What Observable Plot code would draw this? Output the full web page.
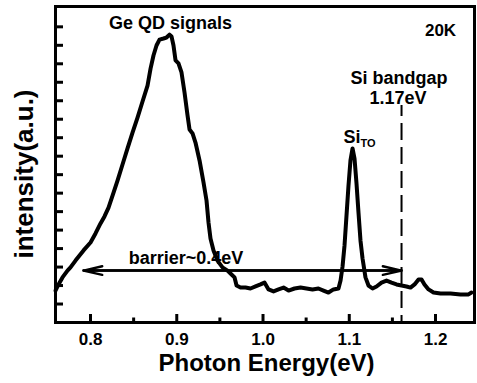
<!DOCTYPE html>
<html><head><meta charset="utf-8">
<script src="https://cdn.jsdelivr.net/npm/d3@7"></script>
<script src="https://cdn.jsdelivr.net/npm/@observablehq/plot@0.6"></script>
<style>body{margin:0;background:#fff} svg{display:block}</style>
</head><body><div id="chart"></div>
<script>
// Photoluminescence spectrum, 20K
const energy = [0.7594,0.7629,0.7675,0.7733,0.7768,0.7826,0.7919,0.8000,0.8058,0.8116,0.8162,0.8209,0.8267,0.8313,0.8371,0.8429,0.8487,0.8545,0.8603,0.8661,0.8696,0.8730,0.8765,0.8800,0.8846,0.8881,0.8916,0.8939,0.8962,0.8986,0.9020,0.9055,0.9090,0.9125,0.9148,0.9183,0.9217,0.9264,0.9310,0.9345,0.9368,0.9391,0.9426,0.9472,0.9530,0.9588,0.9635,0.9670,0.9693,0.9739,0.9797,0.9855,0.9913,0.9971,1.0017,1.0064,1.0122,1.0180,1.0238,1.0296,1.0365,1.0435,1.0504,1.0574,1.0643,1.0701,1.0759,1.0817,1.0875,1.0899,1.0922,1.0945,1.0968,1.0991,1.1014,1.1038,1.1061,1.1084,1.1107,1.1130,1.1154,1.1188,1.1223,1.1270,1.1316,1.1374,1.1432,1.1490,1.1548,1.1606,1.1664,1.1710,1.1757,1.1803,1.1838,1.1872,1.1919,1.1977,1.2058,1.2174,1.2290,1.2383,1.2417];
const intensity = [1.73,2.06,2.44,2.81,2.98,3.35,3.90,4.33,4.82,5.36,5.74,6.22,7.03,7.68,8.55,9.42,10.28,11.09,11.96,12.82,13.74,14.45,14.99,15.31,15.37,15.42,15.58,15.48,14.99,14.18,14.02,13.53,12.45,11.20,10.44,10.23,9.74,8.77,7.58,6.60,5.41,4.55,3.90,3.35,2.98,2.81,2.60,2.44,2.00,1.89,1.89,1.84,1.95,2.06,2.16,1.79,1.68,1.79,1.89,1.73,1.84,1.89,1.84,1.79,1.84,1.73,1.62,1.79,1.84,2.27,3.03,4.17,5.79,7.41,8.77,9.42,8.87,7.52,5.95,4.44,3.46,2.44,2.00,1.84,1.95,2.16,2.27,2.16,2.06,2.00,1.95,1.89,2.06,2.33,2.33,2.06,1.79,1.62,1.57,1.57,1.52,1.52,1.62];

const xDomain = [0.7594, 1.2452];
const yDomain = [0, 17.1];
const xTicks = [0.8, 0.9, 1.0, 1.1, 1.2];
const xTickLabels = ["0.8", "0.9", "1.0", "1.1", "1.2"];
const xMinorTicks = [0.85, 0.95, 1.05, 1.15];
const yTicks = [1,2,3,4,5,6,7,8,9,10,11,12,13,14,15,16];

const xTitle = "Photon Energy(eV)";
const yTitle = "intensity(a.u.)";

const bandgapEnergy = 1.1606;
const bandgapTop = 11.74;
const barrierStart = 0.7919;
const barrierEnd = 1.1606;
const barrierLevel = 2.81;

// centred annotations
const labelText = ["Ge QD signals", "20K", "Si bandgap", "1.17eV", "barrier~0.4eV"];
const labelEnergy = [0.8928, 1.2058, 1.1577, 1.1565, 0.9107];
const labelValue = [15.89, 15.50, 12.88, 11.80, 3.14];
// Si_TO label (main text ends where subscript starts)
const siText = ["Si"];
const siEnergy = [1.1130];
const siValue = [9.74];
const subText = ["TO"];
const subEnergy = [1.1130];
const subValue = [9.50];

const spectrum = energy.map((e, i) => ({energy: e, intensity: intensity[i]}));
const labels = labelText.map((t, i) => ({text: t, energy: labelEnergy[i], value: labelValue[i]}));
const si = siText.map((t, i) => ({text: t, energy: siEnergy[i], value: siValue[i]}));
const subs = subText.map((t, i) => ({text: t, energy: subEnergy[i], value: subValue[i]}));

const W = 477, H = 383, mL = 55, mR = 3, mT = 6, mB = 61;
const innerW = W - mL - mR, innerH = H - mT - mB;
const font = "'Liberation Sans', Arial, Helvetica, sans-serif";

const chart = Plot.plot({
  width: W, height: H,
  marginLeft: mL, marginRight: mR, marginTop: mT, marginBottom: mB,
  x: {domain: xDomain, axis: null},
  y: {domain: yDomain, axis: null},
  style: {fontFamily: font, background: "white", color: "black"},
  marks: [
    Plot.line(spectrum, {x: "energy", y: "intensity", stroke: "black", strokeWidth: 4, strokeLinejoin: "round", strokeLinecap: "round"}),
    Plot.ruleX([bandgapEnergy], {x: d => d, y1: bandgapTop, y2: yDomain[0], stroke: "black", strokeWidth: 2, strokeDasharray: "17,7", strokeDashoffset: 6}),
    Plot.arrow([{a: barrierEnd, b: barrierStart, y: barrierLevel}], {x1: "a", x2: "b", y1: "y", y2: "y", stroke: "black", strokeWidth: 2.4, headLength: 12, headAngle: 26}),
    Plot.arrow([{a: barrierStart, b: barrierEnd, y: barrierLevel}], {x1: "a", x2: "b", y1: "y", y2: "y", stroke: "black", strokeWidth: 2.4, headLength: 12, headAngle: 26}),
    Plot.tickX(xTicks, {x: d => d, insetTop: innerH - 8, stroke: "black", strokeWidth: 3}),
    Plot.tickX(xMinorTicks, {x: d => d, insetTop: innerH - 4.5, stroke: "black", strokeWidth: 3}),
    Plot.tickY(yTicks, {y: d => d, insetRight: innerW - 8, stroke: "black", strokeWidth: 3}),
    Plot.frame({stroke: "black", strokeWidth: 3}),
    Plot.text(xTicks, {x: d => d, text: (d, i) => xTickLabels[i], frameAnchor: "bottom", textAnchor: "middle", lineAnchor: "top", dy: 10, fontSize: 17, fontWeight: "bold", fill: "black"}),
    Plot.text([xTitle], {frameAnchor: "bottom", textAnchor: "middle", lineAnchor: "bottom", dy: 48, dx: 1.5, fontSize: 24, fontWeight: "bold", fill: "black"}),
    Plot.text([yTitle], {frameAnchor: "left", textAnchor: "middle", rotate: -90, lineAnchor: "bottom", dx: -23, dy: 9.5, fontSize: 26, fontWeight: "bold", fill: "black"}),
    Plot.text(labels, {x: "energy", y: "value", text: "text", textAnchor: "middle", lineAnchor: "bottom", fontSize: d => d.text === "20K" ? 17 : 18, fontWeight: "bold", fill: "black"}),
    Plot.text(si, {x: "energy", y: "value", text: "text", textAnchor: "end", lineAnchor: "bottom", fontSize: 18, fontWeight: "bold", fill: "black"}),
    Plot.text(subs, {x: "energy", y: "value", text: "text", textAnchor: "start", lineAnchor: "bottom", fontSize: 11, fontWeight: "bold", fill: "black"})
  ]
});
document.getElementById("chart").appendChild(chart);
</script>
</body></html>
